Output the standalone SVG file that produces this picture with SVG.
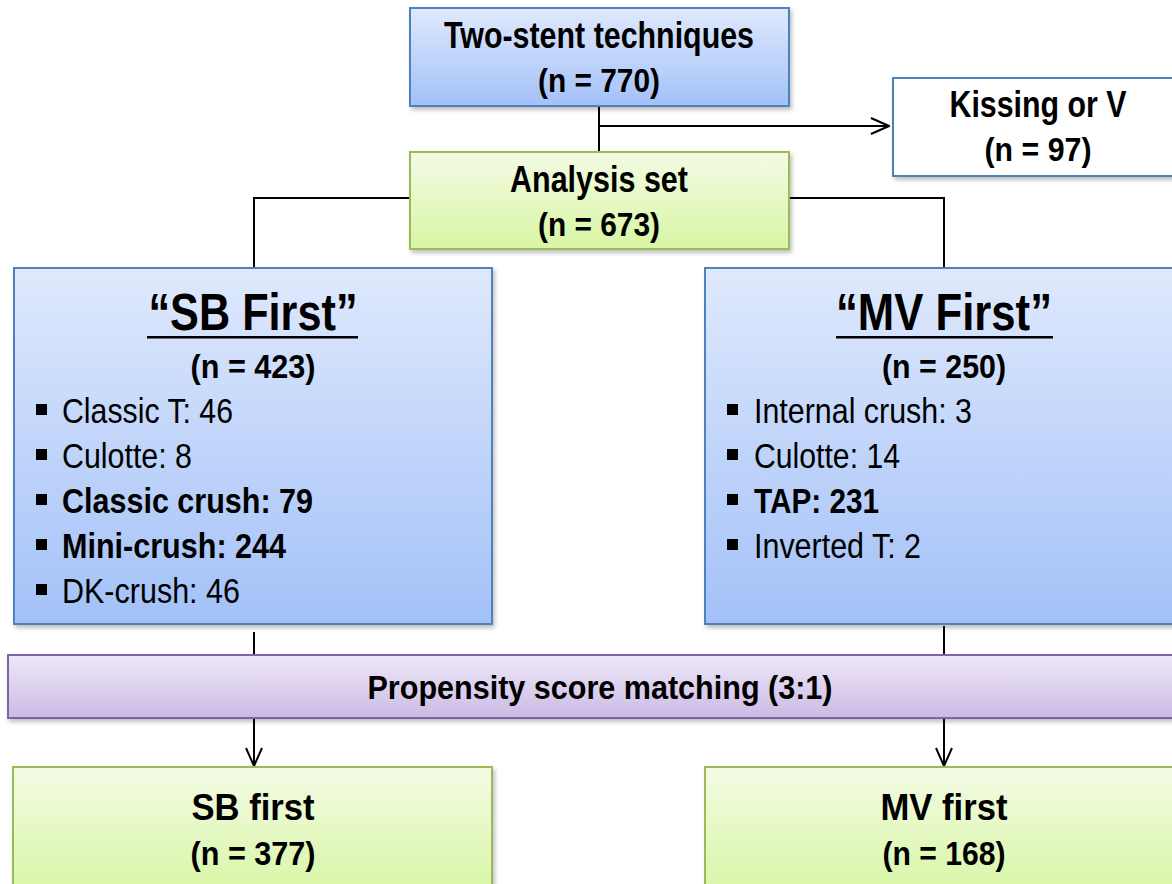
<svg xmlns="http://www.w3.org/2000/svg" width="1172" height="884" viewBox="0 0 1172 884">
<style>
text{font-family:"Liberation Sans Narrow","Liberation Sans",Arial,sans-serif;fill:#000}
.b{font-weight:bold}
.t{font-size:36px;font-weight:bold;text-anchor:middle}
.h{font-size:52px;font-weight:bold;text-anchor:middle}
.n{font-size:34px;font-weight:bold;text-anchor:middle}
.li{font-size:35px}
.blue{fill:url(#gBlue);stroke:#4f81bd;stroke-width:2}
.green{fill:url(#gGreen);stroke:#9bbb59;stroke-width:2}
.purple{fill:url(#gPurple);stroke:#8064a2;stroke-width:2}
.white{fill:#fff;stroke:#4f81bd;stroke-width:2}
.c{fill:none;stroke:#000;stroke-width:2}
</style>
<defs>
<linearGradient id="gBlue" x1="0" y1="0" x2="0" y2="1"><stop offset="0" stop-color="#dfe9fc"/><stop offset="1" stop-color="#a3c1f8"/></linearGradient>
<linearGradient id="gGreen" x1="0" y1="0" x2="0" y2="1"><stop offset="0" stop-color="#f3fbe4"/><stop offset="1" stop-color="#d8f6a4"/></linearGradient>
<linearGradient id="gPurple" x1="0" y1="0" x2="0" y2="1"><stop offset="0" stop-color="#efe8f8"/><stop offset="1" stop-color="#cbbae4"/></linearGradient>
<filter id="sh" x="-5%" y="-5%" width="115%" height="120%"><feDropShadow dx="2" dy="3" stdDeviation="2" flood-color="#000" flood-opacity="0.25"/></filter>
<marker id="arr2" viewBox="0 0 20 20" refX="19" refY="10" markerWidth="20" markerHeight="20" markerUnits="userSpaceOnUse" orient="auto"><path d="M1,2 L19,10 L1,18" fill="none" stroke="#000" stroke-width="2"/></marker>
</defs>

<g id="connectors">
<path class="c" d="M599,106 V152"/>
<path class="c" d="M599,126 H889" marker-end="url(#arr2)"/>
<path class="c" d="M410,198 H254 V268"/>
<path class="c" d="M789,198 H944 V268"/>
<path class="c" d="M254,632 V655"/>
<path class="c" d="M944,626 V655"/>
<path class="c" d="M254,718 V766" marker-end="url(#arr2)"/>
<path class="c" d="M944,718 V766" marker-end="url(#arr2)"/>
</g>

<g id="two-stent">
<rect class="blue" x="410" y="8" width="379" height="98" filter="url(#sh)"/>
<text class="t" x="599" y="48" textLength="310" lengthAdjust="spacingAndGlyphs">Two-stent techniques</text>
<text class="n" x="599" y="92" textLength="122" lengthAdjust="spacingAndGlyphs">(n = 770)</text>
</g>

<g id="kissing">
<rect class="white" x="893" y="78" width="290" height="98" filter="url(#sh)"/>
<text class="t" x="1038" y="117" textLength="177" lengthAdjust="spacingAndGlyphs">Kissing or V</text>
<text class="n" x="1038" y="161" textLength="107" lengthAdjust="spacingAndGlyphs">(n = 97)</text>
</g>

<g id="analysis">
<rect class="green" x="410" y="152" width="379" height="97" filter="url(#sh)"/>
<text class="t" x="599" y="192" textLength="178" lengthAdjust="spacingAndGlyphs">Analysis set</text>
<text class="n" x="599" y="236" textLength="122" lengthAdjust="spacingAndGlyphs">(n = 673)</text>
</g>

<g id="sb-first">
<rect class="blue" x="14" y="268" width="478" height="356" filter="url(#sh)"/>
<text class="h" x="253" y="330" textLength="209" lengthAdjust="spacingAndGlyphs">“SB First”</text>
<rect x="147" y="336" width="211" height="2.5" fill="#000"/>
<text class="n" x="253" y="378" textLength="125" lengthAdjust="spacingAndGlyphs">(n = 423)</text>
<rect x="36" y="404" width="11" height="11" fill="#000"/>
<text class="li" x="62" y="423" textLength="171" lengthAdjust="spacingAndGlyphs">Classic T: 46</text>
<rect x="36" y="449" width="11" height="11" fill="#000"/>
<text class="li" x="62" y="468" textLength="130" lengthAdjust="spacingAndGlyphs">Culotte: 8</text>
<rect x="36" y="494" width="11" height="11" fill="#000"/>
<text class="li b" x="62" y="513" textLength="251" lengthAdjust="spacingAndGlyphs">Classic crush: 79</text>
<rect x="36" y="539" width="11" height="11" fill="#000"/>
<text class="li b" x="62" y="558" textLength="224" lengthAdjust="spacingAndGlyphs">Mini-crush: 244</text>
<rect x="36" y="584" width="11" height="11" fill="#000"/>
<text class="li" x="62" y="603" textLength="178" lengthAdjust="spacingAndGlyphs">DK-crush: 46</text>
</g>

<g id="mv-first">
<rect class="blue" x="705" y="268" width="480" height="356" filter="url(#sh)"/>
<text class="h" x="944" y="330" textLength="216" lengthAdjust="spacingAndGlyphs">“MV First”</text>
<rect x="836" y="336" width="217" height="2.5" fill="#000"/>
<text class="n" x="944" y="378" textLength="124" lengthAdjust="spacingAndGlyphs">(n = 250)</text>
<rect x="727" y="404" width="11" height="11" fill="#000"/>
<text class="li" x="754" y="423" textLength="218" lengthAdjust="spacingAndGlyphs">Internal crush: 3</text>
<rect x="727" y="449" width="11" height="11" fill="#000"/>
<text class="li" x="754" y="468" textLength="146" lengthAdjust="spacingAndGlyphs">Culotte: 14</text>
<rect x="727" y="494" width="11" height="11" fill="#000"/>
<text class="li b" x="754" y="513" textLength="125" lengthAdjust="spacingAndGlyphs">TAP: 231</text>
<rect x="727" y="539" width="11" height="11" fill="#000"/>
<text class="li" x="754" y="558" textLength="167" lengthAdjust="spacingAndGlyphs">Inverted T: 2</text>
</g>

<g id="psm">
<rect class="purple" x="8" y="655" width="1180" height="63" filter="url(#sh)"/>
<text class="n" x="600" y="699" textLength="465" lengthAdjust="spacingAndGlyphs">Propensity score matching (3:1)</text>
</g>

<g id="sb-matched">
<rect class="green" x="13" y="767" width="479" height="130" filter="url(#sh)"/>
<text class="t" x="253" y="820" textLength="123" lengthAdjust="spacingAndGlyphs">SB first</text>
<text class="n" x="253" y="865" textLength="125" lengthAdjust="spacingAndGlyphs">(n = 377)</text>
</g>

<g id="mv-matched">
<rect class="green" x="705" y="767" width="480" height="130" filter="url(#sh)"/>
<text class="t" x="944" y="820" textLength="127" lengthAdjust="spacingAndGlyphs">MV first</text>
<text class="n" x="944" y="865" textLength="123" lengthAdjust="spacingAndGlyphs">(n = 168)</text>
</g>
</svg>
